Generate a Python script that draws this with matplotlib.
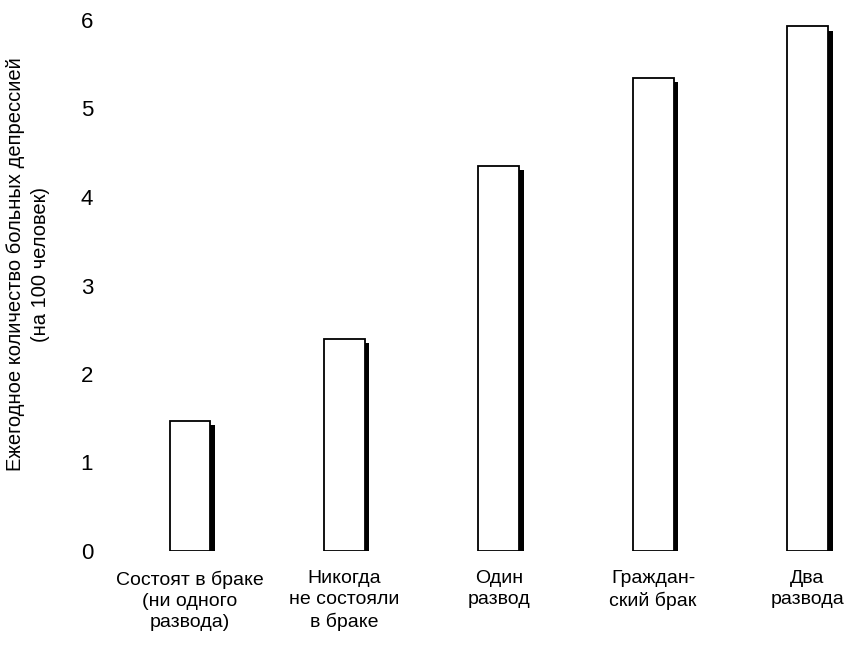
import matplotlib
matplotlib.use("Agg")
import matplotlib.pyplot as plt
import numpy as np
from matplotlib import font_manager

categories = [
    "Состоят в браке\n(ни одного\nразвода)",
    "Никогда\nне состояли\nв браке",
    "Один\nразвод",
    "Граждан-\nский брак",
    "Два\nразвода",
]
values = [1.47, 2.4, 4.35, 5.35, 5.93]
yticks = [0, 1, 2, 3, 4, 5, 6]
ylabel = "Ежегодное количество больных депрессией\n(на 100 человек)"

names = {f.name for f in font_manager.fontManager.ttflist}
family = "Liberation Sans Narrow" if "Liberation Sans Narrow" in names else "Liberation Sans"
plt.rcParams["font.family"] = [family, "DejaVu Sans"]

fig = plt.figure(figsize=(8.6, 6.53), dpi=100)
ax = fig.add_axes([100 / 860, 102 / 653, 760 / 860, 531 / 653])

x = np.arange(len(categories))
w = 0.265
# dark shadow along the right edge of each bar
ax.bar(x + 0.03, np.array(values) - 0.05, width=w, color="black", zorder=1)
ax.bar(x, values, width=w, facecolor="white", edgecolor="black",
       linewidth=1.3, zorder=2)

ax.set_xlim(-0.583, 4.34)
ax.set_ylim(0, 6)
ax.set_yticks(yticks)
ax.set_yticklabels([str(t) for t in yticks], fontsize=16)
ax.set_xticks(x)
ax.set_xticklabels(categories, fontsize=14, linespacing=1.3)
ax.tick_params(length=0, axis="y", pad=5)
ax.tick_params(length=0, axis="x", pad=14)
for s in ax.spines.values():
    s.set_visible(False)

fig.text(0.032, 0.595, ylabel, rotation=90, ha="center", va="center",
         fontsize=14.5, linespacing=1.4, multialignment="center")

fig.savefig("out.png", dpi=100)
